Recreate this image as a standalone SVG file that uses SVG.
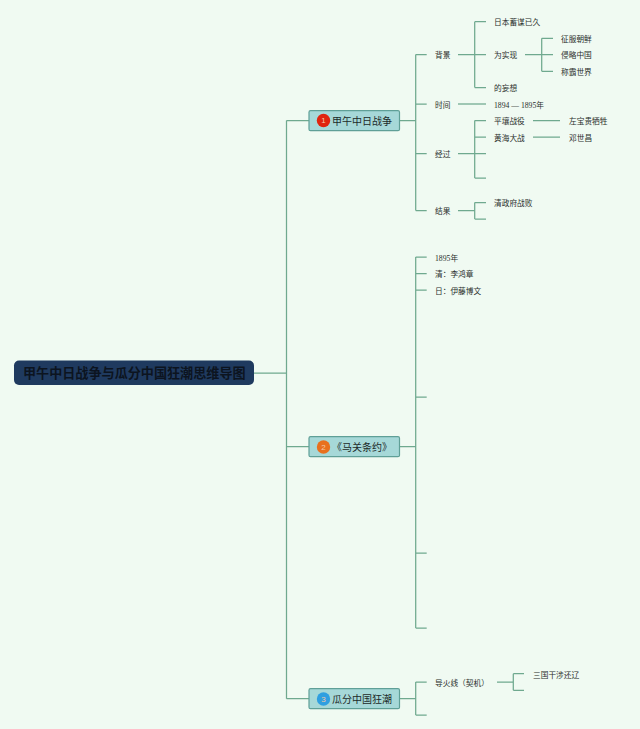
<svg xmlns="http://www.w3.org/2000/svg" width="640" height="729" viewBox="0 0 640 729">
<style>
text{font-family:"Liberation Sans","Noto Sans CJK SC",sans-serif;dominant-baseline:central}
.l{font-size:7.7px;fill:#2a2f2c}
.s{font-family:"Liberation Serif","Noto Sans CJK SC",serif}
.m{font-size:10px;fill:#1c2a28}
.b{fill:#a6d8d8;stroke:#5f9f97;stroke-width:1.2}
.n{font-size:8px;fill:#f3c9a8;text-anchor:middle}
#connectors path{fill:none;stroke:#6fa98f;stroke-width:1.25}
</style>
<rect width="640" height="729" fill="#f0faf2"/>
<g id="connectors">
<path d="M254 373H286.5M286.5 120.5V698.7M286.5 120.5H309M286.5 446.7H309M286.5 698.7H309"/>
<path d="M399.5 120.5H415.7M415.7 54.5V210.5M415.7 54.5H426.7M415.7 104H426.7M415.7 153.5H426.7M415.7 210.5H426.7"/>
<path d="M458 54.5H486M474.7 21.7V87.5M474.7 21.7H486M474.7 87.5H486"/>
<path d="M525 54.5H553M541.7 38.3V71.3M541.7 38.3H553M541.7 71.3H553"/>
<path d="M458 104H486"/>
<path d="M458 153.5H486M474.7 120.5V178M474.7 120.5H486M474.7 137H486M474.7 178H486"/>
<path d="M533 120.5H560M533 137H560"/>
<path d="M458 210.5H474.7M474.7 202.5V219M474.7 202.5H486M474.7 219H486"/>
<path d="M399.5 446.7H415.7M415.7 257V628M415.7 257H426.7M415.7 273.7H426.7M415.7 290H426.7M415.7 397H426.7M415.7 553H426.7M415.7 628H426.7"/>
<path d="M399.5 698.7H415.7M415.7 682V715M415.7 682H426.7M415.7 715H426.7"/>
<path d="M497 682H513.3M513.3 673.7V690.3M513.3 673.7H524M513.3 690.3H524"/>
</g>
<g id="root"><rect x="14" y="360.5" width="240" height="24.5" rx="5" fill="#1f3a5f"/><text x="23" y="373" font-size="13.1" font-weight="bold" fill="#0c1420">甲午中日战争与瓜分中国狂潮思维导图</text></g>
<g id="node1"><rect class="b" x="309" y="110.7" width="90.5" height="20" rx="1.5"/><circle cx="323.5" cy="120.5" r="6.7" fill="#e0240f"/><text class="n" x="323.5" y="120.5">1</text><text class="m" x="332" y="121">甲午中日战争</text></g>
<g id="node2"><rect class="b" x="309" y="436.7" width="90.5" height="20" rx="1.5"/><circle cx="323.5" cy="447" r="6.7" fill="#e8701e"/><text class="n" x="323.5" y="447">2</text><text class="m" x="332" y="447">《马关条约》</text></g>
<g id="node3"><rect class="b" x="309" y="688.7" width="90.5" height="20" rx="1.5"/><circle cx="323.5" cy="699" r="6.7" fill="#2f9fe0"/><text class="n" x="323.5" y="699">3</text><text class="m" x="332" y="699">瓜分中国狂潮</text></g>
<g id="leaf-bg"><text class="l" x="435" y="55.5">背景</text></g>
<g id="leaf-time"><text class="l" x="435" y="105">时间</text></g>
<g id="leaf-course"><text class="l" x="435" y="154">经过</text></g>
<g id="leaf-result"><text class="l" x="435" y="211.5">结果</text></g>
<g id="leaf-a1"><text class="l" x="494" y="22.5">日本蓄谋已久</text></g>
<g id="leaf-a2"><text class="l" x="494" y="55.5">为实现</text></g>
<g id="leaf-a3"><text class="l" x="494" y="88.5">的妄想</text></g>
<g id="leaf-b1"><text class="l" x="561" y="39">征服朝鲜</text></g>
<g id="leaf-b2"><text class="l" x="561" y="55.5">侵略中国</text></g>
<g id="leaf-b3"><text class="l" x="561" y="72">称霸世界</text></g>
<g id="leaf-c1"><text class="l s" x="494" y="105">1894 — 1895年</text></g>
<g id="leaf-d1"><text class="l" x="494" y="121.5">平壤战役</text></g>
<g id="leaf-d2"><text class="l" x="494" y="138">黄海大战</text></g>
<g id="leaf-d3"><text class="l" x="569" y="121.5">左宝贵牺牲</text></g>
<g id="leaf-d4"><text class="l" x="569" y="138">邓世昌</text></g>
<g id="leaf-e1"><text class="l" x="494" y="203.5">清政府战败</text></g>
<g id="leaf-f1"><text class="l s" x="435" y="258.5">1895年</text></g>
<g id="leaf-f2"><text class="l" x="435" y="274.5">清：李鸿章</text></g>
<g id="leaf-f3"><text class="l" x="435" y="291">日：伊藤博文</text></g>
<g id="leaf-g1"><text class="l" x="435" y="683">导火线（契机）</text></g>
<g id="leaf-g2"><text class="l" x="533" y="675">三国干涉还辽</text></g>
</svg>
